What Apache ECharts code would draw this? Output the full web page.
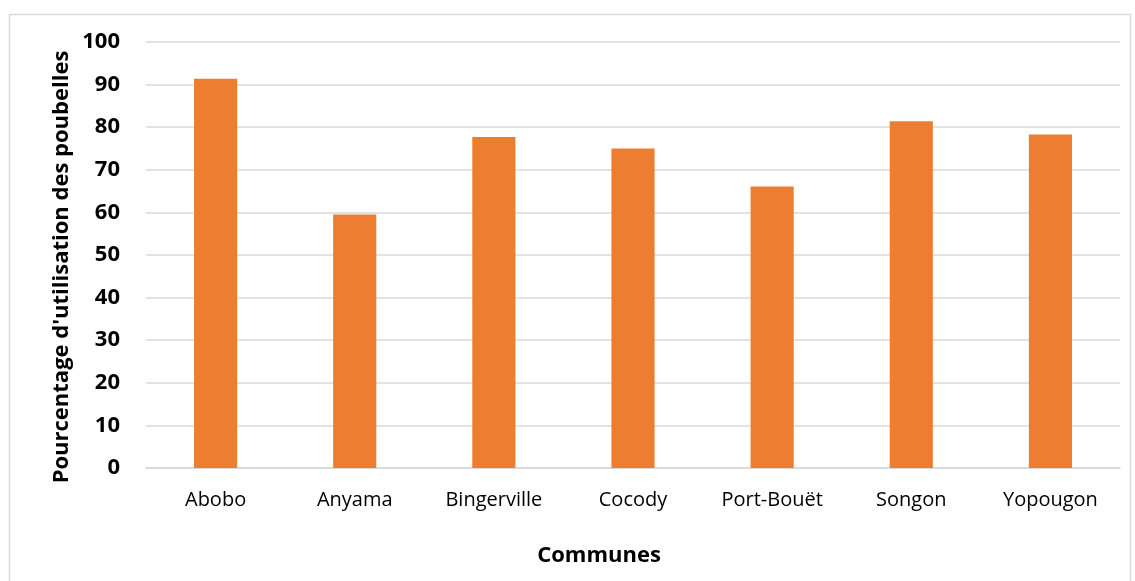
<!DOCTYPE html>
<html>
<head>
<meta charset="utf-8">
<script src="https://cdn.jsdelivr.net/npm/echarts@6/dist/echarts.min.js"></script>
<style>
  html, body { margin: 0; padding: 0; background: #fff; }
  #chart { width: 1135px; height: 581px; }
</style>
</head>
<body>
<div id="chart"></div>
<script>
// Communes of Abidjan and share of households using bins (%)
const communes = ['Abobo', 'Anyama', 'Bingerville', 'Cocody', 'Port-Bouët', 'Songon', 'Yopougon'];
const usageRate = [91.4, 59.5, 77.7, 75.0, 66.1, 81.4, 78.3];
const yTicks = { min: 0, max: 100, interval: 10 };
const yTitle = "Pourcentage d'utilisation des poubelles";
const xTitle = 'Communes';

const FONT = '"Open Sans", "Noto Sans", sans-serif';
const chart = echarts.init(document.getElementById('chart'), null, { renderer: 'canvas' });

chart.setOption({
  animation: false,
  backgroundColor: '#ffffff',
  grid: { left: 146, right: 15, top: 42, bottom: 113, containLabel: false },
  xAxis: {
    type: 'category',
    data: communes,
    axisLine: { show: true, lineStyle: { color: '#d9d9d9', width: 1.5 } },
    axisTick: { show: false },
    axisLabel: { color: '#000', fontFamily: FONT, fontSize: 20, margin: 22 }
  },
  yAxis: {
    type: 'value',
    min: yTicks.min,
    max: yTicks.max,
    interval: yTicks.interval,
    axisLine: { show: false },
    axisTick: { show: false },
    splitLine: { lineStyle: { color: '#d9d9d9', width: 1.5 } },
    axisLabel: { color: '#000', fontFamily: FONT, fontSize: 22, fontWeight: 'bold', margin: 26 }
  },
  series: [{
    type: 'bar',
    data: usageRate,
    barWidth: '31%',
    itemStyle: { color: '#ED7D31' }
  }],
  graphic: [
    {
      type: 'rect',
      left: 7, top: 12,
      shape: { width: 1121, height: 600 },
      style: { fill: 'none', stroke: '#d9d9d9', lineWidth: 1.5 },
      silent: true, z: -1
    },
    {
      type: 'text',
      x: 62, y: 267,
      rotation: Math.PI / 2,
      style: {
        text: yTitle, fill: '#000', font: 'bold 22px ' + FONT,
        align: 'center', verticalAlign: 'middle'
      }
    },
    {
      type: 'text',
      x: 599, y: 556,
      style: {
        text: xTitle, fill: '#000', font: 'bold 22px ' + FONT,
        align: 'center', verticalAlign: 'middle'
      }
    }
  ]
});
</script>
</body>
</html>
